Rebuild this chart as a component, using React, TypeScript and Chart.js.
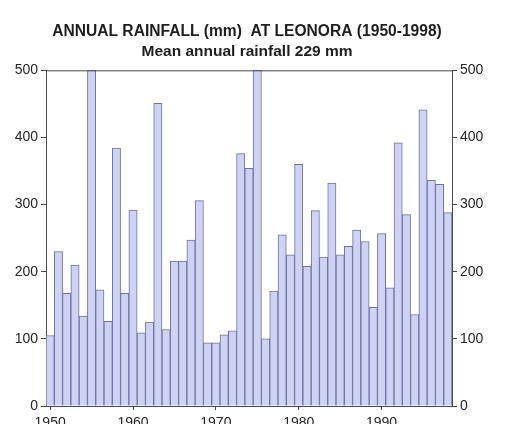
import { useEffect, useRef } from 'react';
import { Chart, registerables } from 'chart.js';

Chart.register(...registerables);

const TITLE = 'ANNUAL RAINFALL (mm)  AT LEONORA (1950-1998)';
const SUBTITLE = 'Mean annual rainfall 229 mm';

const YEARS = [
  '1950', '1951', '1952', '1953', '1954', '1955', '1956', '1957', '1958', '1959',
  '1960', '1961', '1962', '1963', '1964', '1965', '1966', '1967', '1968', '1969',
  '1970', '1971', '1972', '1973', '1974', '1975', '1976', '1977', '1978', '1979',
  '1980', '1981', '1982', '1983', '1984', '1985', '1986', '1987', '1988', '1989',
  '1990', '1991', '1992', '1993', '1994', '1995', '1996', '1997', '1998',
];

const RAINFALL_MM = [
  105, 230, 168, 210, 134, 500, 173, 126, 384, 168,
  292, 109, 125, 451, 114, 216, 216, 247, 306, 94,
  94, 106, 112, 376, 354, 500, 100, 171, 255, 225,
  360, 208, 291, 222, 332, 225, 238, 262, 245, 147,
  257, 176, 392, 285, 136, 441, 336, 330, 288,
];

const X_TICK_LABELS = ['1950', '1960', '1970', '1980', '1990'];
const Y_MIN = 0;
const Y_MAX = 500;
const Y_STEP = 100;

const TEXT_COLOR = '#262626';
const AXIS_COLOR = '#4a4a4a';
const TICK_FONT = { family: '"Liberation Sans", Arial, sans-serif', size: 14 };
const TITLE_FONT_FAMILY = '"Liberation Sans", Arial, sans-serif';

const topBorder = {
  id: 'topBorder',
  afterDraw(chart: any) {
    const { ctx, chartArea } = chart;
    ctx.save();
    ctx.strokeStyle = AXIS_COLOR;
    ctx.lineWidth = 1;
    ctx.beginPath();
    ctx.moveTo(chartArea.left, chartArea.top + 0.5);
    ctx.lineTo(chartArea.right, chartArea.top + 0.5);
    ctx.stroke();
    ctx.restore();
  },
};

export default function App() {
  const canvasRef = useRef<HTMLCanvasElement | null>(null);

  useEffect(() => {
    if (!canvasRef.current) return;
    const yScale = (position: 'left' | 'right', width: number) => ({
      type: 'linear' as const,
      position,
      min: Y_MIN,
      max: Y_MAX,
      ticks: {
        stepSize: Y_STEP,
        color: TEXT_COLOR,
        font: TICK_FONT,
        padding: 3,
      },
      grid: {
        drawOnChartArea: false,
        tickLength: 5,
        color: AXIS_COLOR,
      },
      border: { color: AXIS_COLOR },
      afterFit: (s: any) => {
        s.width = width;
      },
    });

    const chart = new Chart(canvasRef.current, {
      type: 'bar',
      data: {
        labels: YEARS,
        datasets: [
          {
            data: RAINFALL_MM,
            backgroundColor: '#ced2f3',
            borderColor: '#6c72a4',
            borderWidth: { top: 1, left: 1, right: 1, bottom: 0 },
            borderSkipped: false,
            categoryPercentage: 1,
            barPercentage: 1,
            yAxisID: 'y',
          },
        ],
      },
      options: {
        animation: false,
        responsive: false,
        maintainAspectRatio: false,
        layout: { padding: { top: 0, left: 0, right: 31, bottom: 0 } },
        plugins: {
          legend: { display: false },
          tooltip: { enabled: false },
          title: {
            display: true,
            text: TITLE,
            color: '#1e1e1e',
            font: { family: TITLE_FONT_FAMILY, size: 15.6, weight: 'bold' },
            padding: { top: 22, bottom: 2 },
          },
          subtitle: {
            display: true,
            text: SUBTITLE,
            color: '#1e1e1e',
            font: { family: TITLE_FONT_FAMILY, size: 15.5, weight: 'bold' },
            padding: { top: 0, bottom: 9 },
          },
        },
        scales: {
          x: {
            type: 'category',
            grid: {
              offset: false,
              drawOnChartArea: false,
              tickLength: 4,
              color: AXIS_COLOR,
            },
            border: { color: AXIS_COLOR },
            ticks: {
              autoSkip: false,
              maxRotation: 0,
              color: TEXT_COLOR,
              font: TICK_FONT,
              padding: 5,
              callback: (_v: any, i: number) =>
                X_TICK_LABELS.includes(YEARS[i]) ? YEARS[i] : null,
            },
            afterFit: (s: any) => {
              s.height = 18;
            },
          },
          y: yScale('left', 46),
          y2: yScale('right', 42),
        },
      },
      plugins: [topBorder],
    } as any);
    return () => chart.destroy();
  }, []);

  return (
    <div style={{ position: 'absolute', left: 0, top: 0, width: 525, height: 424, background: '#fff' }}>
      <canvas ref={canvasRef} width={525} height={424} style={{ display: 'block' }} />
    </div>
  );
}
